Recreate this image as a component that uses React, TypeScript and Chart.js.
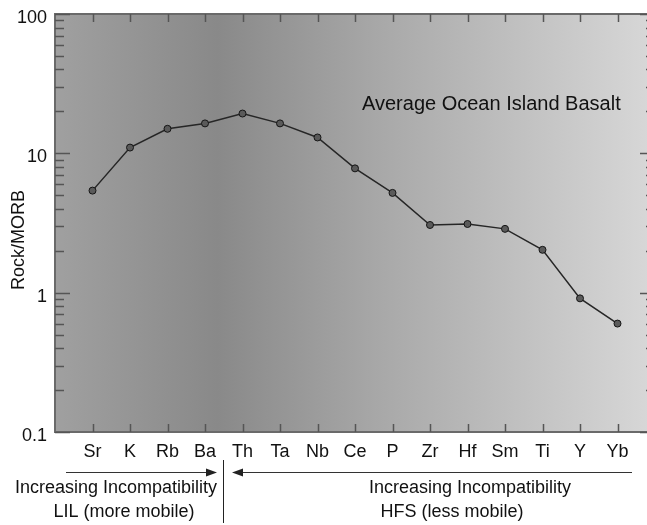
import React, { useEffect, useRef } from 'react';
import { Chart, registerables } from 'chart.js';

Chart.register(...registerables);

// ---- Data ----
const elements = ['Sr', 'K', 'Rb', 'Ba', 'Th', 'Ta', 'Nb', 'Ce', 'P', 'Zr', 'Hf', 'Sm', 'Ti', 'Y', 'Yb'];
const oibOverMorb = [5.4, 11.0, 15.0, 16.4, 19.3, 16.4, 13.0, 7.8, 5.2, 3.06, 3.11, 2.87, 2.03, 0.91, 0.6];
const yTickLabels = [0.1, 1, 10, 100];
const chartTitle = 'Average Ocean Island Basalt';
const yAxisTitle = 'Rock/MORB';
const lilLines = ['Increasing Incompatibility', 'LIL (more mobile)'];
const hfsLines = ['Increasing Incompatibility', 'HFS (less mobile)'];

const FONT = "'Liberation Sans', Arial, Helvetica, sans-serif";

const decorPlugin = {
  id: 'decor',
  beforeDraw(chart: any) {
    const { ctx, chartArea: a } = chart;
    const g = ctx.createLinearGradient(a.left, 0, a.right, 0);
    g.addColorStop(0, '#a0a0a0');
    g.addColorStop(0.27, '#898989');
    g.addColorStop(0.55, '#a9a9a9');
    g.addColorStop(1, '#d8d8d8');
    ctx.save();
    ctx.fillStyle = g;
    ctx.fillRect(a.left, a.top, a.right - a.left, a.bottom - a.top);
    ctx.restore();
  },
  beforeDatasetsDraw(chart: any) {
    const { ctx, chartArea: a, scales } = chart;
    const xs = scales.x;
    const ys = scales.y;
    ctx.save();
    // frame
    ctx.strokeStyle = '#6a6a6a';
    ctx.lineWidth = 2;
    ctx.strokeRect(a.left, a.top, a.right - a.left, a.bottom - a.top);
    // x ticks (inward, top and bottom)
    ctx.strokeStyle = '#555';
    ctx.lineWidth = 1.5;
    ctx.beginPath();
    for (let i = 1; i <= elements.length; i++) {
      const px = Math.round(xs.getPixelForValue(i)) + 0.5;
      ctx.moveTo(px, a.bottom);
      ctx.lineTo(px, a.bottom - 8);
      ctx.moveTo(px, a.top);
      ctx.lineTo(px, a.top + 8);
    }
    // y ticks (inward, left and right)
    for (let d = -1; d <= 2; d++) {
      for (let m = 1; m <= 9; m++) {
        if (d === 2 && m > 1) break;
        const v = m * Math.pow(10, d);
        const py = Math.round(ys.getPixelForValue(v)) + 0.5;
        const len = m === 1 ? 15 : 9;
        ctx.moveTo(a.left, py);
        ctx.lineTo(a.left + len, py);
        ctx.moveTo(a.right, py);
        ctx.lineTo(a.right - len, py);
      }
    }
    ctx.stroke();
    ctx.restore();
  },
  afterDraw(chart: any) {
    const { ctx, scales } = chart;
    const xs = scales.x;
    ctx.save();
    ctx.fillStyle = '#111';
    // title inside plot
    ctx.font = `20px ${FONT}`;
    ctx.textAlign = 'left';
    ctx.textBaseline = 'middle';
    ctx.fillText(chartTitle, 362, 104);
    // y axis title
    ctx.font = `18px ${FONT}`;
    ctx.save();
    ctx.translate(19, 240);
    ctx.rotate(-Math.PI / 2);
    ctx.textAlign = 'center';
    ctx.fillText(yAxisTitle, 0, 0);
    ctx.restore();

    // divider between LIL and HFS
    const divX = Math.round(xs.getPixelForValue(4.5)) - 0.5;
    ctx.strokeStyle = '#222';
    ctx.lineWidth = 1;
    ctx.beginPath();
    ctx.moveTo(divX, 460);
    ctx.lineTo(divX, 523);
    ctx.stroke();

    // arrows
    const arrowY = 472.5;
    ctx.strokeStyle = '#333';
    ctx.fillStyle = '#222';
    ctx.lineWidth = 1.2;
    // left arrow -> pointing right
    const lStart = 66, lTip = 217;
    ctx.beginPath();
    ctx.moveTo(lStart, arrowY);
    ctx.lineTo(lTip - 6, arrowY);
    ctx.stroke();
    ctx.beginPath();
    ctx.moveTo(lTip, arrowY);
    ctx.lineTo(lTip - 11, arrowY - 4);
    ctx.lineTo(lTip - 11, arrowY + 4);
    ctx.closePath();
    ctx.fill();
    // right arrow <- pointing left
    const rTip = 232, rEnd = 632;
    ctx.beginPath();
    ctx.moveTo(rTip + 6, arrowY);
    ctx.lineTo(rEnd, arrowY);
    ctx.stroke();
    ctx.beginPath();
    ctx.moveTo(rTip, arrowY);
    ctx.lineTo(rTip + 11, arrowY - 4);
    ctx.lineTo(rTip + 11, arrowY + 4);
    ctx.closePath();
    ctx.fill();

    // annotation texts
    ctx.fillStyle = '#111';
    ctx.font = `18px ${FONT}`;
    ctx.textAlign = 'center';
    ctx.textBaseline = 'middle';
    ctx.fillText(lilLines[0], 116, 488);
    ctx.fillText(lilLines[1], 124, 512);
    ctx.fillText(hfsLines[0], 470, 488);
    ctx.fillText(hfsLines[1], 452, 512);
    ctx.restore();
  },
};

export default function App() {
  const canvasRef = useRef<HTMLCanvasElement | null>(null);

  useEffect(() => {
    document.body.style.margin = '0';
    const canvas = canvasRef.current;
    if (!canvas) return;
    const labels = ['', ...elements, ''];
    const data = [null, ...oibOverMorb, null];
    const chart = new Chart(canvas, {
      type: 'line',
      data: {
        labels,
        datasets: [
          {
            label: chartTitle,
            data,
            borderColor: '#262626',
            borderWidth: 1.5,
            tension: 0,
            pointRadius: 3.5,
            pointBackgroundColor: '#5a5a5a',
            pointBorderColor: '#151515',
            pointBorderWidth: 1,
            spanGaps: false,
          },
        ],
      },
      options: {
        responsive: false,
        animation: false,
        devicePixelRatio: 1,
        layout: { padding: { left: 0, top: 14, right: 3.4, bottom: 0 } },
        plugins: {
          legend: { display: false },
          tooltip: { enabled: false },
          title: { display: false },
        },
        scales: {
          x: {
            type: 'category',
            offset: false,
            grid: { display: false, drawTicks: false },
            border: { display: false },
            ticks: {
              autoSkip: false,
              maxRotation: 0,
              minRotation: 0,
              padding: 9,
              color: '#111',
              font: { family: FONT, size: 18 },
            },
            afterFit(s: any) {
              s.height = 93;
              s.paddingLeft = 0;
              s.paddingRight = 0;
            },
          },
          y: {
            type: 'logarithmic',
            min: 0.1,
            max: 100,
            grid: { display: false, drawTicks: false },
            border: { display: false },
            ticks: {
              autoSkip: false,
              padding: 8,
              labelOffset: 4,
              color: '#111',
              font: { family: FONT, size: 18 },
              callback: (value: any) => {
                const v = Number(value);
                const hit = yTickLabels.find((t) => Math.abs(t - v) / t < 1e-6);
                return hit !== undefined ? String(hit) : '';
              },
            },
            afterFit(s: any) {
              s.width = 55;
              s.paddingTop = 0;
              s.paddingBottom = 0;
            },
          },
        },
      },
      plugins: [decorPlugin],
    } as any);
    return () => chart.destroy();
  }, []);

  return (
    <div style={{ position: 'fixed', left: 0, top: 0, width: 647, height: 525, overflow: 'hidden', background: '#fff' }}>
      <canvas ref={canvasRef} width={660} height={525} style={{ display: 'block' }} />
    </div>
  );
}
